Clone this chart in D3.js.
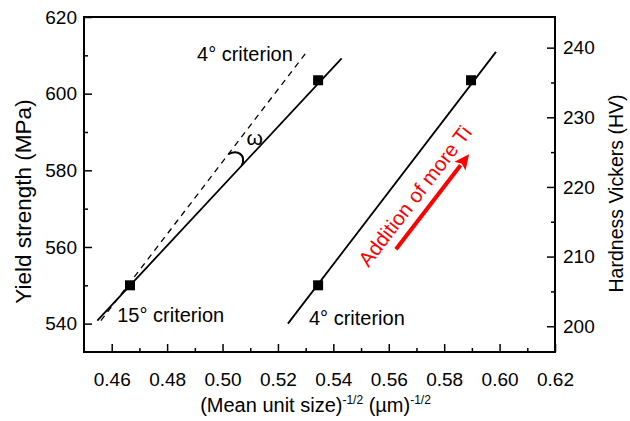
<!DOCTYPE html>
<html lang="en">
<head>
<meta charset="utf-8">
<title>Yield strength vs mean unit size</title>
<script src="https://cdn.jsdelivr.net/npm/d3@7"></script>
<style>
  body { margin: 0; background: #fff; }
  svg text { font-family: "Liberation Sans", Arial, sans-serif; fill: #000; }
</style>
</head>
<body>
<script>
// tick labels
var xTicks = [0.46, 0.48, 0.50, 0.52, 0.54, 0.56, 0.58, 0.60, 0.62];
var xMinor = [0.47, 0.49, 0.51, 0.53, 0.55, 0.57, 0.59, 0.61];
var yLeftTicks = [540, 560, 580, 600, 620];
var yLeftMinor = [550, 570, 590, 610];
var yRightTicks = [200, 210, 220, 230, 240];
var yRightMinor = [205, 215, 225, 235];

// measured points (yield strength, MPa)
var yieldStrength = [550, 603.5];
var unitSize15 = [0.4666, 0.5345];   // 15 deg criterion
var unitSize4 = [0.5345, 0.5897];    // 4 deg criterion

// fitted lines, [x, MPa] end points
var fit15 = [[0.4548, 540.8], [0.5430, 609.2]];
var fit4 = [[0.5236, 540.0], [0.5987, 610.9]];
var fit4Shifted = [[0.4561, 540.8], [0.5307, 611.2]];

var w = 630, h = 421;
var margin = {left: 84, right: 75, top: 17, bottom: 69};

var svg = d3.select("body").append("svg")
  .attr("width", w)
  .attr("height", h);

var x = d3.scaleLinear().domain([0.45, 0.62]).range([margin.left, w - margin.right]);
var y = d3.scaleLinear().domain([532.6, 620]).range([h - margin.bottom, margin.top]);
var yR = d3.scaleLinear().domain([196.3, 244.4]).range([h - margin.bottom, margin.top]);

var bottom = h - margin.bottom, right = w - margin.right;

// minor ticks first
svg.append("g").attr("transform", "translate(0," + bottom + ")")
  .call(d3.axisBottom(x).tickValues(xMinor).tickSizeInner(-4).tickSizeOuter(0).tickFormat(""))
  .call(function(g) { g.select(".domain").remove(); g.selectAll("line").attr("stroke-width", 1.5); });
svg.append("g").attr("transform", "translate(" + margin.left + ",0)")
  .call(d3.axisLeft(y).tickValues(yLeftMinor).tickSizeInner(-4).tickSizeOuter(0).tickFormat(""))
  .call(function(g) { g.select(".domain").remove(); g.selectAll("line").attr("stroke-width", 1.5); });
svg.append("g").attr("transform", "translate(" + right + ",0)")
  .call(d3.axisRight(yR).tickValues(yRightMinor).tickSizeInner(-4).tickSizeOuter(0).tickFormat(""))
  .call(function(g) { g.select(".domain").remove(); g.selectAll("line").attr("stroke-width", 1.5); });

// major ticks with labels
svg.append("g").attr("transform", "translate(0," + bottom + ")")
  .call(d3.axisBottom(x).tickValues(xTicks).tickSizeInner(-8).tickSizeOuter(0).tickPadding(20.5)
    .tickFormat(d3.format(".2f")))
  .call(function(g) {
    g.select(".domain").remove();
    g.selectAll("line").attr("stroke-width", 1.5);
    g.selectAll("text").attr("font-size", 19).attr("font-family", null);
  });
svg.append("g").attr("transform", "translate(" + margin.left + ",0)")
  .call(d3.axisLeft(y).tickValues(yLeftTicks).tickSizeInner(-8).tickSizeOuter(0).tickPadding(7))
  .call(function(g) {
    g.select(".domain").remove();
    g.selectAll("line").attr("stroke-width", 1.5);
    g.selectAll("text").attr("font-size", 19).attr("font-family", null);
  });
svg.append("g").attr("transform", "translate(" + right + ",0)")
  .call(d3.axisRight(yR).tickValues(yRightTicks).tickSizeInner(-8).tickSizeOuter(0).tickPadding(8))
  .call(function(g) {
    g.select(".domain").remove();
    g.selectAll("line").attr("stroke-width", 1.5);
    g.selectAll("text").attr("font-size", 19).attr("font-family", null);
  });

// frame
svg.append("rect")
  .attr("x", margin.left).attr("y", margin.top)
  .attr("width", right - margin.left).attr("height", bottom - margin.top)
  .attr("fill", "none").attr("stroke", "#000").attr("stroke-width", 2);

// lines
var line = d3.line().x(function(d) { return x(d[0]); }).y(function(d) { return y(d[1]); });
svg.append("path").datum(fit15).attr("d", line)
  .attr("fill", "none").attr("stroke", "#000").attr("stroke-width", 1.8);
svg.append("path").datum(fit4).attr("d", line)
  .attr("fill", "none").attr("stroke", "#000").attr("stroke-width", 1.8);
svg.append("path").datum(fit4Shifted).attr("d", line)
  .attr("fill", "none").attr("stroke", "#000").attr("stroke-width", 1.3)
  .attr("stroke-dasharray", "6,5");

// squares
var pts = unitSize15.map(function(u, i) { return [u, yieldStrength[i]]; })
  .concat(unitSize4.map(function(u, i) { return [u, yieldStrength[i]]; }));
svg.selectAll("rect.pt").data(pts).enter().append("rect")
  .attr("class", "pt")
  .attr("x", function(d) { return x(d[0]) - 5; })
  .attr("y", function(d) { return y(d[1]) - 5; })
  .attr("width", 10).attr("height", 10)
  .attr("fill", "#000");

// angle arc between the dashed and the solid line
function onLine(seg, v) {
  var t = (v - seg[0][1]) / (seg[1][1] - seg[0][1]);
  return [x(seg[0][0] + t * (seg[1][0] - seg[0][0])), y(v)];
}
var a0 = onLine(fit4Shifted, 584.2), a1 = onLine(fit15, 581.3);
svg.append("path")
  .attr("d", "M" + a0[0] + "," + a0[1] + "C" + (a0[0] + 10) + "," + (a0[1] - 5) + " " +
    (a1[0] + 4) + "," + (a1[1] - 10) + " " + a1[0] + "," + a1[1])
  .attr("fill", "none").attr("stroke", "#000").attr("stroke-width", 2);

// annotations
function note(xv, yv, txt, size) {
  return svg.append("text").attr("x", x(xv)).attr("y", y(yv)).attr("font-size", size).text(txt);
}
note(0.4908, 608.4, "4\u00b0 criterion", 20);
note(0.4620, 540.5, "15\u00b0 criterion", 20);
note(0.5312, 539.7, "4\u00b0 criterion", 20);
note(0.5116, 586.6, "\u03c9", 21).attr("text-anchor", "middle");

// red arrow
var tail = [x(0.5626), y(559.4)], tip = [x(0.5890), y(584.2)];
var ang = Math.atan2(tip[1] - tail[1], tip[0] - tail[0]);
var headLen = 15, headW = 7;
var base = [tip[0] - headLen * Math.cos(ang), tip[1] - headLen * Math.sin(ang)];
svg.append("line")
  .attr("x1", tail[0]).attr("y1", tail[1]).attr("x2", base[0] + Math.cos(ang)).attr("y2", base[1] + Math.sin(ang))
  .attr("stroke", "#ff0000").attr("stroke-width", 4);
svg.append("path")
  .attr("d", "M" + tip[0] + "," + tip[1] +
    "L" + (base[0] - headW * Math.sin(ang)) + "," + (base[1] + headW * Math.cos(ang)) +
    "L" + (base[0] + 3 * Math.cos(ang)) + "," + (base[1] + 3 * Math.sin(ang)) +
    "L" + (base[0] + headW * Math.sin(ang)) + "," + (base[1] - headW * Math.cos(ang)) + "Z")
  .attr("fill", "#ff0000");
var tx = x(0.5527), ty = y(554.5);
svg.append("text")
  .attr("transform", "translate(" + tx + "," + ty + ") rotate(" + (ang * 180 / Math.PI) + ")")
  .attr("font-size", 20.5)
  .style("fill", "#ff0000")
  .text("Addition of more Ti");

// axis titles
svg.append("text")
  .attr("transform", "translate(30.5," + (margin.top + (bottom - margin.top) / 2 + 17) + ") rotate(-90)")
  .attr("text-anchor", "middle").attr("font-size", 22.5)
  .text("Yield strength (MPa)");
svg.append("text")
  .attr("transform", "translate(623," + (margin.top + (bottom - margin.top) / 2 + 9) + ") rotate(-90)")
  .attr("text-anchor", "middle").attr("font-size", 19.5)
  .text("Hardness Vickers (HV)");
var xt = svg.append("text")
  .attr("x", (margin.left + right) / 2 - 4).attr("y", 412)
  .attr("text-anchor", "middle").attr("font-size", 20);
xt.append("tspan").text("(Mean unit size)");
xt.append("tspan").attr("font-size", 12).attr("dy", -8).text("-1/2");
xt.append("tspan").attr("dy", 8).text(" (\u00b5m)");
xt.append("tspan").attr("font-size", 12).attr("dy", -8).text("-1/2");
</script>
</body>
</html>
